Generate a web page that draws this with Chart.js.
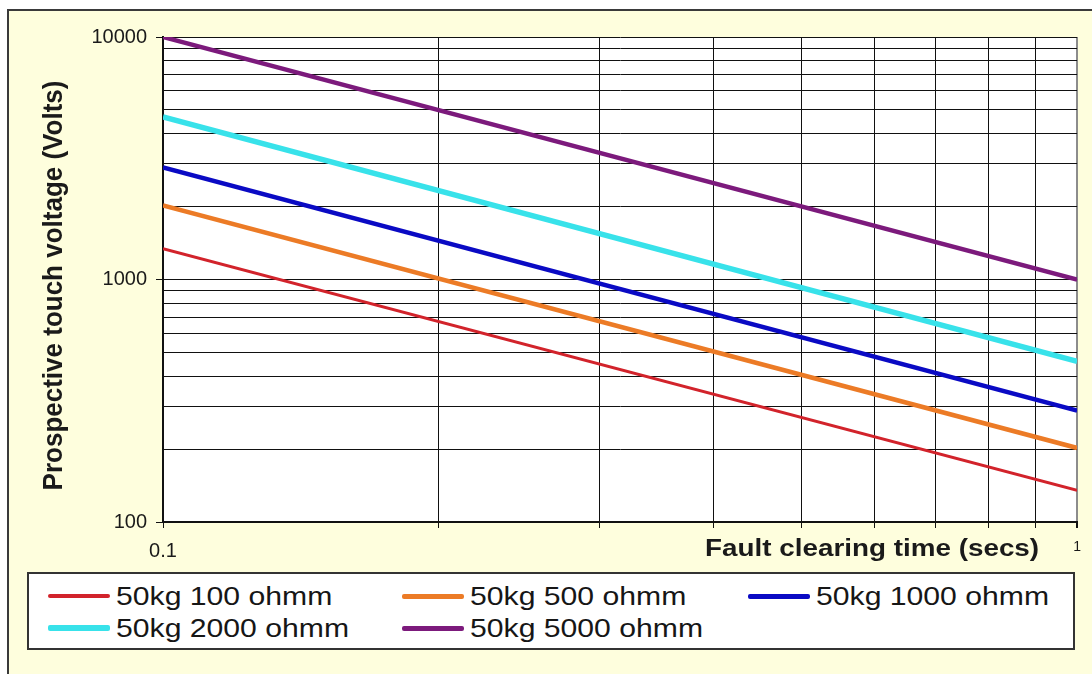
<!DOCTYPE html>
<html>
<head>
<meta charset="utf-8">
<title>Prospective touch voltage</title>
<script src="https://cdn.jsdelivr.net/npm/chart.js@4/dist/chart.umd.min.js"></script>
<style>
  html, body { margin: 0; padding: 0; background: #fff; overflow: hidden; }
  body { width: 1092px; height: 674px; position: relative; font-family: "Liberation Sans", Arial, sans-serif; }
  .frame { position: absolute; left: 7px; top: 9px; width: 1100px; height: 700px; border: 2px solid #3a3a3a; background: #fefedd; }
  .plot { position: absolute; left: 0; top: 0; width: 1092px; height: 570px; }
  .legend { position: absolute; left: 27px; top: 572px; width: 1044px; height: 74px; border: 2px solid #333; background: #fff; }
  .legend-item { position: absolute; display: flex; align-items: center; height: 30px; }
  .legend-line { width: 62px; border-radius: 2px; }
  .legend-text { display: inline-block; font-size: 26px; color: #161616; transform: scaleX(1.16); transform-origin: left center; white-space: nowrap; margin-left: 6px; }
</style>
</head>
<body>
<div class="frame"></div>
<div class="plot"><canvas id="myChart"></canvas></div>
<div class="legend" id="legend"></div>

<script>
// fault clearing time (secs) and the touch voltage at each end of the lines
const faultTimes = [0.1, 1]
const touch100 = [1340, 135]
const touch500 = [2020, 202]
const touch1000 = [2900, 288]
const touch2000 = [4680, 460]
const touch5000 = [10000, 1000]

const seriesNames = ['50kg 100 ohmm', '50kg 500 ohmm', '50kg 1000 ohmm', '50kg 2000 ohmm', '50kg 5000 ohmm']

const xGridValues = [0.1, 0.2, 0.3, 0.4, 0.5, 0.6, 0.7, 0.8, 0.9, 1]
const xTickLabels = [0.1, 1]
const yGridValues = [100, 200, 300, 400, 500, 600, 700, 800, 900,
  1000, 2000, 3000, 4000, 5000, 6000, 7000, 8000, 9000, 10000]
const yTickLabels = [100, 1000, 10000]

const xTitle = 'Fault clearing time (secs)'
const yTitle = 'Prospective touch voltage (Volts)'

const seriesValues = [touch100, touch500, touch1000, touch2000, touch5000]
const colours = ['#d2232b', '#ec7b26', '#0a0ac4', '#38e2ea', '#7c1a7c']
const lineWidths = [3, 4.5, 4.5, 5.5, 4.5]
const legendWidths = [4, 5, 5, 6, 5]

const fontFamily = '"Liberation Sans", Arial, sans-serif'

const plotExtras = {
  id: 'plotExtras',
  beforeDraw (chart) {
    const { ctx, chartArea: a } = chart
    ctx.save()
    ctx.fillStyle = '#ffffff'
    ctx.fillRect(a.left, a.top, a.right - a.left, a.bottom - a.top)
    ctx.restore()
  },
  afterDraw (chart) {
    const { ctx, chartArea: a } = chart
    ctx.save()
    ctx.fillStyle = '#1a1a1a'
    ctx.font = 'bold 23px ' + fontFamily
    ctx.textAlign = 'right'
    ctx.textBaseline = 'alphabetic'
    ctx.translate(a.right - 38, a.bottom + 34)
    ctx.scale(1.21, 1)
    ctx.fillText(xTitle, 0, 0)
    ctx.restore()

    ctx.save()
    ctx.fillStyle = '#1a1a1a'
    ctx.font = 'bold 26px ' + fontFamily
    ctx.textAlign = 'center'
    ctx.textBaseline = 'alphabetic'
    ctx.translate(a.left - 101, (a.top + a.bottom) / 2 + 6)
    ctx.rotate(-Math.PI / 2)
    ctx.scale(1, 1.07)
    ctx.fillText(yTitle, 0, 0)
    ctx.restore()
  }
}

const ctx = document.getElementById('myChart').getContext('2d')
const chart = new Chart(ctx, {
  type: 'line',
  data: {
    datasets: seriesValues.map((values, i) => ({
      label: seriesNames[i],
      data: faultTimes.map((t, j) => ({ x: t, y: values[j] })),
      borderColor: colours[i],
      backgroundColor: colours[i],
      borderWidth: lineWidths[i],
      pointRadius: 0,
      fill: false,
      tension: 0
    }))
  },
  options: {
    responsive: true,
    maintainAspectRatio: false,
    animation: false,
    layout: { padding: { left: 0, right: 12, top: 37, bottom: 0 } },
    plugins: {
      legend: { display: false },
      tooltip: { enabled: false }
    },
    scales: {
      x: {
        type: 'logarithmic',
        min: 0.1,
        max: 1,
        afterBuildTicks: scale => { scale.ticks = xGridValues.map(v => ({ value: v })) },
        afterFit: scale => { scale.height = 48 },
        border: { color: '#111', width: 2 },
        grid: {
          color: c => (c.tick && c.tick.value === 1) ? '#8c8c8c' : '#111',
          lineWidth: c => (c.tick && c.tick.value === 1) ? 2 : 1,
          tickColor: '#111',
          tickLength: 6
        },
        ticks: {
          autoSkip: false,
          maxRotation: 0,
          padding: 11,
          color: '#1a1a1a',
          font: c => ({ family: fontFamily, size: (c.tick && c.tick.value === 1) ? 14 : 20 }),
          callback: value => xTickLabels.includes(value) ? String(value) : ''
        }
      },
      y: {
        type: 'logarithmic',
        min: 100,
        max: 10000,
        afterBuildTicks: scale => { scale.ticks = yGridValues.map(v => ({ value: v })) },
        afterFit: scale => { scale.width = 163 },
        border: { color: '#111', width: 2 },
        grid: {
          color: '#111',
          lineWidth: 1,
          tickColor: c => (c.tick && yTickLabels.includes(c.tick.value)) ? '#111' : 'rgba(0,0,0,0)',
          tickLength: 7
        },
        ticks: {
          autoSkip: false,
          padding: 9,
          color: '#1a1a1a',
          font: { family: fontFamily, size: 20 },
          callback: value => yTickLabels.includes(value) ? String(value) : ''
        }
      }
    }
  },
  plugins: [plotExtras]
})

// legend box, laid out in columns like the spreadsheet one
const legendCols = [19, 373, 719]
const legendRows = [7, 39]
const legend = document.getElementById('legend')
chart.data.datasets.forEach((ds, i) => {
  const item = document.createElement('div')
  item.className = 'legend-item'
  item.style.left = legendCols[i % 3] + 'px'
  item.style.top = legendRows[Math.floor(i / 3)] + 'px'
  const line = document.createElement('span')
  line.className = 'legend-line'
  line.style.height = legendWidths[i] + 'px'
  line.style.background = ds.borderColor
  const text = document.createElement('span')
  text.className = 'legend-text'
  text.textContent = ds.label
  item.appendChild(line)
  item.appendChild(text)
  legend.appendChild(item)
})
</script>
</body>
</html>
